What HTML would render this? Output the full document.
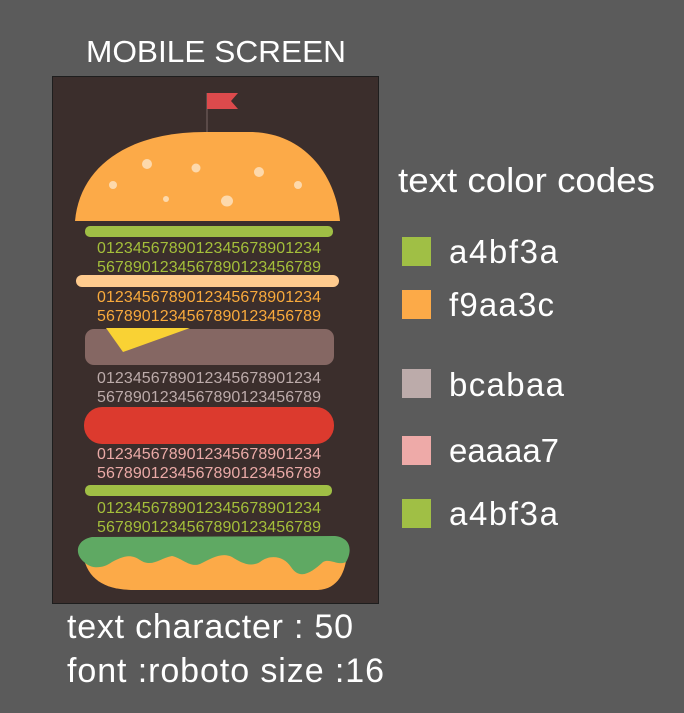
<!DOCTYPE html>
<html><head><meta charset="utf-8"><style>
html,body{margin:0;padding:0;background:#5b5b5b;}
svg{display:block;}
text{font-family:"Liberation Sans",sans-serif;}
</style></head><body>
<svg width="684" height="713" viewBox="0 0 684 713" xmlns="http://www.w3.org/2000/svg">
<rect width="684" height="713" fill="#5b5b5b"/>
<text x="86" y="62" font-size="31" fill="#fff" textLength="260" lengthAdjust="spacingAndGlyphs">MOBILE SCREEN</text>
<rect x="52.5" y="76.5" width="326" height="527" fill="#3b2e2c" stroke="#1e1e1e" stroke-width="1"/>
<line x1="207" y1="93" x2="207" y2="133" stroke="#5a4a48" stroke-width="2"/>
<polygon points="207,93 238,93 231,101 238,109 207,109" fill="#dc4a4c"/>
<path d="M75,221 C80,165 130,132 205,132 L250,132 C300,132 335,170 340,221 Z" fill="#fcaa48"/>
<g fill="#fdd9ac">
<circle cx="147" cy="164" r="5"/><circle cx="196" cy="168" r="4.5"/><circle cx="259" cy="172" r="5"/>
<circle cx="113" cy="185" r="4"/><circle cx="298" cy="185" r="4"/><circle cx="166" cy="199" r="3"/><ellipse cx="227" cy="201" rx="6" ry="5.5"/>
</g>
<rect x="85" y="226" width="248" height="11" rx="5" fill="#a0bf45"/>
<g font-size="16" text-anchor="middle" lengthAdjust="spacingAndGlyphs">
<text x="209" y="253" fill="#a4bf3a" textLength="224">0123456789012345678901234</text>
<text x="209" y="272" fill="#a4bf3a" textLength="224">5678901234567890123456789</text>
<text x="209" y="302" fill="#f9aa3c" textLength="224">0123456789012345678901234</text>
<text x="209" y="321" fill="#f9aa3c" textLength="224">5678901234567890123456789</text>
<text x="209" y="383" fill="#bcabaa" textLength="224">0123456789012345678901234</text>
<text x="209" y="402" fill="#bcabaa" textLength="224">5678901234567890123456789</text>
<text x="209" y="459" fill="#eaaaa7" textLength="224">0123456789012345678901234</text>
<text x="209" y="478" fill="#eaaaa7" textLength="224">5678901234567890123456789</text>
<text x="209" y="513" fill="#a4bf3a" textLength="224">0123456789012345678901234</text>
<text x="209" y="532" fill="#a4bf3a" textLength="224">5678901234567890123456789</text>
</g>
<rect x="76" y="275" width="263" height="12" rx="6" fill="#ffcb8e"/>
<rect x="85" y="329" width="249" height="36" rx="9" fill="#856763"/>
<polygon points="106,328 190,328 123,352" fill="#f9d234"/>
<rect x="84" y="407" width="250" height="37" rx="18" fill="#dc3a2e"/>
<rect x="85" y="485" width="247" height="11" rx="5" fill="#a0bf45"/>
<path d="M83,555 L347,552 C346,572 338,589 318,590 L135,590 C108,590 88,582 83,555 Z" fill="#fcaa48"/>
<path d="M92,537 L335,536 C352,538 352,552 346,562 C338,566 330,558 323,562 C312,572 300,581 291,567 C284,556 270,554 260,562 C250,568 240,562 232,557 C222,552 212,558 200,564 C190,568 182,558 172,556 C160,558 152,568 140,560 C130,553 122,557 112,562 C104,568 92,570 84,562 C74,554 76,540 92,537 Z" fill="#5fa963"/>
<text x="398" y="192" font-size="34" fill="#fff" textLength="257" lengthAdjust="spacingAndGlyphs">text color codes</text>
<rect x="402" y="237" width="29" height="29" fill="#a0bf45"/>
<rect x="402" y="290" width="29" height="29" fill="#fcaa48"/>
<rect x="402" y="369" width="29" height="29" fill="#bcabaa"/>
<rect x="402" y="436" width="29" height="29" fill="#eeaaa8"/>
<rect x="402" y="499" width="29" height="29" fill="#a0bf45"/>
<g font-size="33" fill="#fff" lengthAdjust="spacingAndGlyphs">
<text x="449" y="263" textLength="109">a4bf3a</text>
<text x="449" y="316" textLength="105">f9aa3c</text>
<text x="449" y="396" textLength="115">bcabaa</text>
<text x="449" y="462" textLength="110">eaaaa7</text>
<text x="449" y="525" textLength="109">a4bf3a</text>
</g>
<g font-size="34" fill="#fff" lengthAdjust="spacingAndGlyphs">
<text x="67" y="638" textLength="286">text character : 50</text>
<text x="67" y="682" textLength="317">font :roboto size :16</text>
</g>
</svg>
</body></html>
